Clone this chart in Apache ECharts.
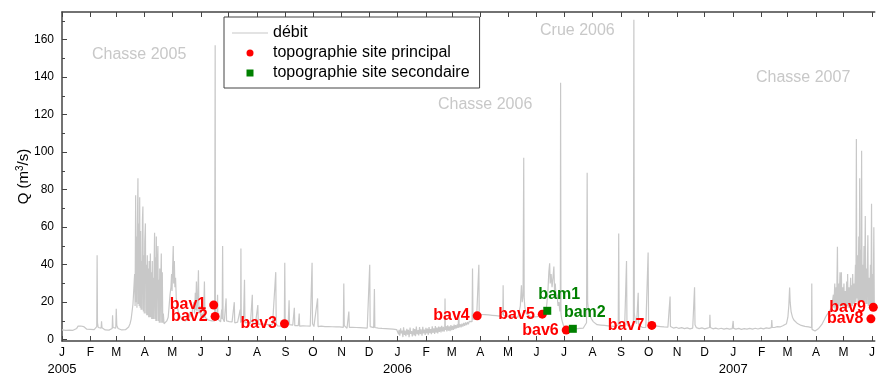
<!DOCTYPE html>
<html>
<head>
<meta charset="utf-8">
<script src="https://cdn.jsdelivr.net/npm/echarts@6/dist/echarts.min.js"></script>
<style>
  html, body { margin: 0; padding: 0; background: #fff; }
  #chart { width: 878px; height: 376px; }
</style>
</head>
<body>
<div id="chart"></div>
<script>
// Discharge record, [days since 2005-01-01, Q in m3/s]
const flowWinter2005 = [
  [0,5.2],[2,5.6],[4,5],[6,5.5],[8,5.1],[10,5.6],[12,5],[14,5.5],[16,6],[17.5,7.2],[19,6.4],[20.5,7.3],[22,6.5],[23.5,7],[25,6.1],[27,5.6],[29,5.2],[31,5.5],[33,5],[35,5.4],[37,5.6],[37.8,7],[38.2,45],[38.6,9],[39.4,6.5],[41,5.6],[42.6,6.2],[43,9.8],[43.5,6.4],[45,5.5],[47,5.2],[49,5.6],[51,5.1],[53,5.5],[54.6,6],[55,13],[55.5,6.5],[57,5.6],[58.5,6.2],[59,16.5],[59.6,7.5],[61,6],[63,5.4],[65,5.2],[67,5.5],[69,5.3],[71,5.8],[72.5,6.8],[74,8.5],[75.2,11],[76.2,15],[77.2,19]
];
const flowFlush2005 = [
  [78.5,19],[79,35],[79.5,18],[80.1,77],[80.5,20],[81,55],[81.5,17],[82,60],[82.6,86],[83,19],[83.5,62],[84,18],[84.5,76],[85,17],[85.5,58],[86,16],[86.5,42],[87,16],[87.5,64],[88,71],[88.5,15],[89,45],[89.5,14],[90,52],[90.7,62],[91.2,14],[91.7,40],[92.2,13],[92.8,45],[93.3,13],[93.8,38],[94.3,12],[94.8,42],[95.3,12],[96.1,46],[96.6,12],[97.1,36],[97.6,11],[98.2,42],[98.7,11],[99.2,33],[99.7,11],[100.2,40],[100.7,57],[101.2,11],[101.7,44],[102.1,10],[102.6,55],[103.1,10],[103.6,38],[104.3,50],[104.8,10],[105.3,32],[105.8,9],[106.3,38],[106.8,9],[107.4,30],[108,46],[108.5,9],[109.1,36],[109.6,9],[110.2,14],[111,8.5]
];
const flowSpring2005 = [
  [112,9],[114,10],[115.5,12],[116.5,18],[117.5,24],[118.5,28],[119.2,35],[119.7,26],[120.3,38],[121,50],[121.5,30],[122.2,42],[122.8,28],[123.5,33],[124.3,22],[125.2,18],[126.5,15],[128,13],[130,11],[132,10.5],[134,10],
  [136,10],[138,11],[139.5,15],[140.5,12],[142,13],[143.5,20],[144.2,14],[145,25],[145.5,16],[146.2,31],[146.8,15],[147.5,20],[148.4,37],[149,14],[150,18],[151,12],[152.5,14],[154,11.5],[154.9,31],[155.5,12],[157,11],[159,10.5],[161,11],[163,10],[165,10],[166,10]
];
const flowSummer2005 = [
  [166.3,11],[166.6,157],[166.9,15],[167.5,12],[168.5,10.5],[169.2,24],[169.6,11],[171,10],[172.5,9.5],[173.7,16],[174.2,11],[174.7,50],[175.2,11],[176.5,9.5],[178,10],[178.5,22],[179,10],[180.5,9],[182,9.6],[183.5,8.8],[185,9.5],[187.4,20],[187.9,9],[189.5,8.6],[191,9.4],[192.5,8.5],[193.8,16],[194.3,9],[194.6,48.6],[195,9.5],[196.5,8.8],[197.5,12],[198.5,32],[199,9],[200.5,8.4],[202,9.2],[203.5,8.2],[205,8.8],[207,24],[207.5,8.5],[209,8],[210.5,8.8],[212,7.8],[213,18.5],[213.5,8.2],[215,7.6],[217,8.4],[219,7.5],[221,8.2],[223,7.4],[225,8],[227,7.6],[229,8.2],[231,7.5],[232.5,36],[233,8.5],[234.5,7.3],[236,8],[238,7.2],[240,7.8],[241.8,7.5],[242.3,41],[242.8,8],[244.5,7.4],[246,8.2],[247,21],[247.5,8],[249,7],[251,7.8],[252.7,17],[253.2,7.5],[255,6.8],[257,7.5],[258,14],[258.5,7.2],[260,6.6],[262,7.4],[264,6.8],[266,7.3],[268,6.6],[270,7.2],[271.5,7],[272,41],[272.5,8.5],[274,7],[276,6.5],[278,22],[278.5,7],[280,6.5],[282,7.2],[284,6.4],[286,7],[288,6.3],[290,7],[292,6.4],[294,6.9],[296,6.2],[298,6.8],[300,6.2],[302,6.8],[304,6.3],[306,6.6],[306.5,30],[307,7.5],[308.5,6.5],[310,6.1],[312,15],[312.5,6.6],[314,6],[316,6.6],[318,6],[320,6.5],[322,5.8],[324,6.4],[326,5.8],[328,6.3],[330,5.7],[332,6.2],[334,6],[334.7,40],[335.2,7],[337,6],[339,6.4],[339.8,27],[340.3,6.5],[342,5.8],[344,6.2],[346,5.5],[348,6],[350,5.5],[352,5.9],[354,5.3],[356,5.8],[358,5.2],[360,5.6],[362,5],[364,5.4]
];
const flowWinter2006 = [
  [365,4.5],[366,2.9],[366.6,5.2],[367.4,2.1],[368.3,6.1],[369,3.4],[370,4.8],[370.8,1.4],[371.5,6.6],[372.5,2.6],[373.2,4.9],[374,1.9],[375.1,5.8],[375.8,2.7],[376.7,5.3],[377.5,1.3],[378.6,6.4],[379.3,3.1],[380.2,4.6],[381,1.7],[382.1,6],[382.9,2.2],[383.6,5.6],[384.5,1.9],[385.4,7],[386.2,2.9],[387.3,5.1],[388,2.3],[388.9,6.7],[389.7,3],[390.5,5.5],[391.6,2.1],[392.4,6.9],[393.2,3.3],[394.1,5.4],[395,2.5],[395.8,6.3],[396.7,3.4],[397.5,5.9],[398.4,2.6],[399.2,6.7],[400.1,3.5],[401,5.7],[401.8,2.9],[402.7,7.1],[403.5,3.6],[404.4,6.1],[405.3,3.1],[406.1,7.3],[407,3.8],[407.8,6.4],[408.7,3.4],[409.6,7],[410.4,4.1],[411.3,6.8],[412.2,3.9],[413,7.4],[413.9,4.4],[414.8,6.9],[415.6,4.3],[416.3,6],[416.6,22],[416.9,5.2],[417.8,7.2],[418.6,4.4],[419.5,7.6],[420.4,4.8],[421.2,7.1],[422.1,4.6],[423,7.8],[423.9,5.1],[424.7,7.3],[425.6,5.2],[426.5,8.1],[427.3,5.6],[428.2,7.7],[429.1,6],[430,8.2],[430.8,6.3],[431.6,15],[432,6.6],[433,8.3],[434,6.6],[435,8.5],[436,7],[437,8.9],[438,7.4],[439,9.2],[440,7.8],[441,9.4],[442,8.2],[443,9.8],[444,8.8],[445,10.2],[446,9.6],[446.5,38],[447,11],[448,10.5],[449,11.5],[450,11],[451,12.2],[452,12.5],[453,13],[453.4,40],[453.8,14],[455,13]
];
const flowSpring2006 = [
  [456,13.5],[458,12.8],[460,13.4],[462,12.6],[464,13.2],[466,12.4],[468,13],[470,12.2],[472,12.8],[474,12],[476,12.6],[478,11.8],[479.5,14],[479.8,29],[480.2,13],[482,12],[484,12.6],[486,11.6],[488,12.4],[490,11.5],[492,12.2],[494,11.4],[496,12],[497.5,13],[498.5,18],[499.7,29],[500.5,20],[501.5,24],[502.2,97],[502.7,22],[503.5,17],[505,14],[507,13],[509,12.4],[511,13],[513,12.2],[515,12.8],[517,12.3],[519,13],[521,13.2],[523,13.6],[525,13.8],[526.5,15],[527.5,20],[528.5,26],[529.5,36],[530.4,40.7],[531,30],[532,35],[533,28],[534,33],[535,39],[535.7,26],[536.5,30],[537.5,22],[538.5,24],[539.5,18],[540.5,20],[541.5,15],[542,17],[542.3,137],[542.7,14],[543.5,11],[544.5,9],[545.5,7.5],[546.5,6.5],[547.5,5.8],[548.4,5.1]
];
const flowSummer2006 = [
  [549.5,5.2],[551,5.6],[553,5.2],[555.6,5.8],[557,6.2],[559,5.8],[561,6.4],[563,6],[565,6.6],[567,6.2],[569,7],[570.5,9],[571.2,89],[571.7,20],[572.5,16],[574,13],[576,11],[578,9.5],[580,8.5],[582,8],[584,7.6],[586,7.8],[588,7.2],[590,7.6],[592,7],[594,7.4],[596,6.8],[598,7.2],[600,6.6],[602,7],[604,6.6],[605,8],[605.5,56.6],[606,9],[608,7],[610,6.6],[612,7],[613.5,7.5],[614,42],[614.5,8],[616,7],[618,6.6],[620,7],[621.5,8.5],[622,170.6],[622.5,14],[623.5,10],[625,8.5],[626.7,25],[627.2,8],[629,7],[631,6.6],[633,7],[635,6.5],[637,7],[637.5,46.5],[638,9],[639.5,7.6],[641.5,7.6],[643,7.2],[645,6.8],[647,7.2],[649,6.6],[651,7],[653,6.5],[655,6.8],[657,6.3],[659,6.7],[661,6.4],[661.4,23],[661.8,7],[663,6.4]
];
const flowWinter2007 = [
  [665,6.2],[668,6.6],[671,6],[674,6.4],[677,5.9],[680,6.3],[683,5.8],[686,6.2],[687.6,7],[688,28],[688.5,8],[690,6.4],[693,5.9],[696,6.3],[699,5.8],[702,6.2],[704.3,6.5],[704.7,13.3],[705.2,6.5],[708,5.8],[711,6.2],[714,5.7],[717,6.1],[720,5.6],[723,6],[726,5.6],[729,5.9],[730,10],[730.5,6],[733,5.6],[736,6],[739,5.5],[742,5.9],[745,5.6],[748,6],[751,5.6],[754,6.1],[757,5.7],[760,6.2],[763,5.8],[766,6.3],[769,6],[771.5,6.4],[772,10.5],[772.5,6.6],[775,6.5],[778,7],[781,6.8],[784,7.4],[786,7.6],[788,8.5],[789.5,12],[790.5,18],[791.4,27.8],[792,20],[793,15],[794.5,12],[796,10.5],[798,9.5],[800,8.6],[802,8],[804,7.6],[806,7.3],[808,7.1],[810,6.9],[812,6.8],[814,6.5],[815.3,6.4],[815.5,30],[815.8,5.5],[817,4.8],[819,4.6],[821,5],[823,6],[825,7.2],[827,8.6],[829,10.5],[831,12.5],[833,14],[835,15.5],[837,17]
];
const flowFlush2007 = [
  [838,18],[839,24],[839.5,17],[840.5,30],[841,16],[842,28],[842.5,17],[843.4,49.5],[843.9,17],[844.7,30],[845.2,18],[846.2,36],[846.7,17],[847.7,36],[848.2,18],[849,28],[849.5,17],[850.5,30],[851,18],[852,26],[852.5,17],[853.5,31],[854,18],[854.5,35],[855,17],[856,28],[856.5,17],[857.8,33],[858.3,18],[859,29],[859.5,18],[860,35],[860.5,19],[861.5,30],[862,19],[863,40],[863.5,20],[864,107],[864.5,22],[865.3,45],[865.8,20],[866.6,55],[867.1,20],[867.6,86],[868.1,21],[868.8,48],[869.2,21],[869.7,100.7],[870.2,21],[871,40],[871.5,20],[872.3,50],[872.8,20],[873.7,66],[874.2,19],[875,38],[875.5,19],[876.5,55.7],[877,18],[878,33],[878.5,18],[879.3,40],[879.8,17],[880.5,72.5],[881,18],[881.8,35],[882.3,17],[883,60],[883.5,18],[884,20]
];

// Survey dates (days since 2005-01-01) and discharge at survey time
const mainSiteNames = ['bav1','bav2','bav3','bav4','bav5','bav6','bav7','bav8','bav9'];
const mainSiteDays  = [165, 166.5, 242, 451.6, 522.4, 548.4, 641.5, 879.8, 882.4];
const mainSiteQ     = [18.5, 12.4, 8.5, 12.7, 13.6, 5.1, 7.6, 11.1, 17.3];

const secondSiteNames = ['bam1','bam2'];
const secondSiteDays  = [527.8, 555.6];
const secondSiteQ     = [15.4, 5.8];

// Axis ticks
const monthLetters = ['J','F','M','A','M','J','J','A','S','O','N','D'];
const yearLabels = [2005, 2006, 2007];
const yMajorTicks = [0, 20, 40, 60, 80, 100, 120, 140, 160];
const yMinorTicks = [10, 30, 50, 70, 90, 110, 130, 150, 170];

const DAY_MS = 86400000;
const origin = Date.UTC(2005, 0, 1);
const monthStarts = [];
const monthTickLabel = {};
for (let y = 2005; y <= 2007; y++) {
  for (let m = 0; m < 12; m++) {
    const d = Math.round((Date.UTC(y, m, 1) - origin) / DAY_MS);
    if (d > 884) break;
    monthStarts.push(d);
    monthTickLabel[d] = monthLetters[m];
  }
}
const yearStarts = yearLabels.map(y => Math.round((Date.UTC(y, 0, 1) - origin) / DAY_MS));
const yearTickLabel = {};
yearStarts.forEach((d, i) => { yearTickLabel[d] = String(yearLabels[i]); });

const flowData = [].concat(flowWinter2005, flowFlush2005, flowSpring2005, flowSummer2005,
  flowWinter2006, flowSpring2006, flowSummer2006, flowWinter2007, flowFlush2007);

const FONT = '"Liberation Sans", Arial, sans-serif';
const X_MIN = 0, X_MAX = 884, Y_MIN = -0.7, Y_MAX = 174.7;
const axisLineStyle = { color: '#444', width: 1.5 };
const FLOW_COLOR = '#c8c8c8';
const MAIN_COLOR = '#ff0000';
const SECOND_COLOR = '#008000';

const chart = echarts.init(document.getElementById('chart'), null, { renderer: 'canvas' });

const xAxisBase = { type: 'value', min: X_MIN, max: X_MAX, gridIndex: 0, splitLine: { show: false } };
const yAxisBase = { type: 'value', min: Y_MIN, max: Y_MAX, gridIndex: 0, splitLine: { show: false } };

chart.setOption({
  animation: false,
  backgroundColor: '#fff',
  textStyle: { fontFamily: FONT },
  grid: { left: 62, right: 0, top: 12, bottom: 33, containLabel: false },
  xAxis: [
    Object.assign({}, xAxisBase, {
      position: 'bottom',
      axisLine: { show: true, onZero: false, lineStyle: axisLineStyle },
      axisTick: { show: true, inside: true, length: 5, customValues: monthStarts, lineStyle: { color: '#444', width: 1 } },
      axisLabel: { show: true, customValues: monthStarts, margin: 6, fontSize: 12, color: '#000', fontFamily: FONT,
        formatter: v => monthTickLabel[Math.round(v)] || '' }
    }),
    Object.assign({}, xAxisBase, {
      position: 'bottom',
      axisLine: { show: false },
      axisTick: { show: false },
      axisLabel: { show: true, customValues: yearStarts, margin: 22, fontSize: 13, color: '#000', fontFamily: FONT,
        formatter: v => yearTickLabel[Math.round(v)] || '' }
    }),
    Object.assign({}, xAxisBase, {
      position: 'top',
      axisLine: { show: true, onZero: false, lineStyle: axisLineStyle },
      axisTick: { show: true, inside: true, length: 5, customValues: monthStarts, lineStyle: { color: '#444', width: 1 } },
      axisLabel: { show: false }
    })
  ],
  yAxis: [
    Object.assign({}, yAxisBase, {
      position: 'left',
      axisLine: { show: true, onZero: false, lineStyle: axisLineStyle },
      axisTick: { show: true, inside: true, length: 5, customValues: yMajorTicks, lineStyle: { color: '#444', width: 1 } },
      axisLabel: { show: true, customValues: yMajorTicks, margin: 8, fontSize: 12, color: '#000', fontFamily: FONT },
      name: 'Q (m{sup|3}/s)',
      nameLocation: 'middle',
      nameGap: 30,
      nameMoveOverlap: false,
      nameTextStyle: { fontSize: 15, color: '#000', fontFamily: FONT,
        rich: { sup: { fontSize: 10, color: '#000', fontFamily: FONT, padding: [0, 0, 7, 0] } } }
    }),
    Object.assign({}, yAxisBase, {
      position: 'left',
      axisLine: { show: false },
      axisTick: { show: true, inside: true, length: 3, customValues: yMinorTicks, lineStyle: { color: '#444', width: 1 } },
      axisLabel: { show: false }
    })
  ],
  legend: {
    orient: 'vertical',
    left: 224, top: 17,
    padding: [8, 10, 7, 8],
    itemGap: 4,
    itemWidth: 36, itemHeight: 7,
    symbolKeepAspect: true,
    borderColor: '#444', borderWidth: 1, borderRadius: 0,
    backgroundColor: '#fff',
    textStyle: { fontSize: 16, color: '#000', fontFamily: FONT, lineHeight: 16 },
    data: [
      { name: 'débit', icon: 'path://M0,0H36V1H0Z', itemStyle: { color: FLOW_COLOR } },
      { name: 'topographie site principal', icon: 'circle' },
      { name: 'topographie site secondaire', icon: 'path://M0,0H10V10H0Z' }
    ]
  },
  graphic: [
    { type: 'text', left: 92, top: 47, style: { text: 'Chasse 2005', fill: FLOW_COLOR, font: '16px ' + FONT } },
    { type: 'text', left: 438, top: 97, style: { text: 'Chasse 2006', fill: FLOW_COLOR, font: '16px ' + FONT } },
    { type: 'text', left: 540, top: 23, style: { text: 'Crue 2006', fill: FLOW_COLOR, font: '16px ' + FONT } },
    { type: 'text', left: 756, top: 70, style: { text: 'Chasse 2007', fill: FLOW_COLOR, font: '16px ' + FONT } }
  ],
  series: [
    {
      name: 'débit', type: 'line', xAxisIndex: 0, yAxisIndex: 0,
      data: flowData, symbol: 'none', showSymbol: false,
      lineStyle: { color: FLOW_COLOR, width: 1.2 }, itemStyle: { color: FLOW_COLOR },
      z: 1
    },
    {
      name: 'topographie site principal', type: 'scatter', xAxisIndex: 0, yAxisIndex: 0,
      symbol: 'circle', symbolSize: 9,
      itemStyle: { color: MAIN_COLOR, opacity: 1 },
      data: mainSiteNames.map((n, i) => ({ name: n, value: [mainSiteDays[i], mainSiteQ[i]] })),
      label: { show: true, position: 'left', distance: 3, formatter: '{b}', color: MAIN_COLOR, opacity: 1,
        fontSize: 16, fontWeight: 'bold', fontFamily: FONT },
      z: 3
    },
    {
      name: 'topographie site secondaire', type: 'scatter', xAxisIndex: 0, yAxisIndex: 0,
      symbol: 'rect', symbolSize: 8,
      itemStyle: { color: SECOND_COLOR, opacity: 1 },
      data: secondSiteNames.map((n, i) => ({ name: n, value: [secondSiteDays[i], secondSiteQ[i]] })),
      label: { show: true, position: 'top', distance: 4, offset: [12, 0], formatter: '{b}', color: SECOND_COLOR, opacity: 1,
        fontSize: 16, fontWeight: 'bold', fontFamily: FONT },
      z: 3
    }
  ]
});
</script>
</body>
</html>
